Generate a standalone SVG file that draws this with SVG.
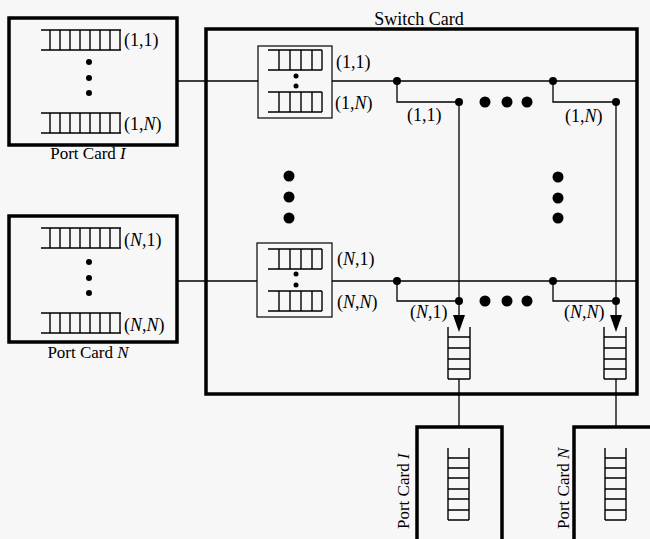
<svg xmlns="http://www.w3.org/2000/svg" width="650" height="539" viewBox="0 0 650 539">
<defs>
<style>
.card{fill:none;stroke:#000;stroke-width:3.5}
.thin{fill:none;stroke:#000;stroke-width:1.3}
.q{fill:none;stroke:#000;stroke-width:1.4}
.box{fill:none;stroke:#000;stroke-width:1.2}
.dot{fill:#000}
text{font-family:"Liberation Serif","Times New Roman",serif;fill:#000}
.lbl{font-size:18px}
.pc{font-size:17px}
.ttl{font-size:18px}
.it{font-style:italic}
</style>
<g id="hq">
<path class="q" d="M41,0H121M41,20H121M50,0V20M60,0V20M70,0V20M80,0V20M90,0V20M100,0V20M110,0V20M120,0V20"/>
</g>
<g id="sq">
<path class="q" d="M268,0H322M268,20H322M279,0V20M290,0V20M301,0V20M312,0V20M322,0V20"/>
</g>
<g id="vq">
<path class="q" d="M0,0V72M21,0V72M0,10H21M0,20H21M0,30H21M0,41H21M0,51H21M0,62H21M0,72H21"/>
</g>
<g id="oq">
<path class="q" d="M0,0V52M22,0V52M0,10H22M0,21H22M0,32H22M0,42H22M0,52H22"/>
</g>
</defs>
<rect width="650" height="539" fill="#f7f7f7"/>

<g id="connectors">
<path class="thin" d="M177,81H258M332,81H636"/>
<path class="thin" d="M177,281H257M332,281H636"/>
<path class="thin" d="M397,81V102H459M553,81V102H616"/>
<path class="thin" d="M397,281V301H459M553,281V301H616"/>
<path class="thin" d="M459,102V318M616,102V318"/>
<path class="thin" d="M459,379V427M616,379V427"/>
<polygon class="dot" points="453,315 465,315 459,332"/>
<polygon class="dot" points="610,315 622,315 616,332"/>
<circle class="dot" cx="397" cy="81" r="4"/>
<circle class="dot" cx="553" cy="81" r="4"/>
<circle class="dot" cx="459" cy="102" r="4"/>
<circle class="dot" cx="616" cy="102" r="4"/>
<circle class="dot" cx="397" cy="281" r="4"/>
<circle class="dot" cx="553" cy="281" r="4"/>
<circle class="dot" cx="459" cy="301" r="4"/>
<circle class="dot" cx="616" cy="301" r="4"/>
</g>

<g id="switch-card">
<rect class="card" x="206" y="29" width="431" height="365"/>
<text class="ttl" x="419" y="25" text-anchor="middle">Switch Card</text>
<circle class="dot" cx="289" cy="176" r="5.5"/>
<circle class="dot" cx="289" cy="197" r="5.5"/>
<circle class="dot" cx="289" cy="218" r="5.5"/>
<circle class="dot" cx="558" cy="177" r="5.5"/>
<circle class="dot" cx="558" cy="198" r="5.5"/>
<circle class="dot" cx="558" cy="218" r="5.5"/>
<circle class="dot" cx="485" cy="102" r="5.5"/>
<circle class="dot" cx="507" cy="102" r="5.5"/>
<circle class="dot" cx="527" cy="102" r="5.5"/>
<circle class="dot" cx="485" cy="301" r="5.5"/>
<circle class="dot" cx="507" cy="301" r="5.5"/>
<circle class="dot" cx="527" cy="301" r="5.5"/>
<text class="lbl" x="407" y="121">(1,1)</text>
<text class="lbl" x="565" y="122">(1,<tspan class="it">N</tspan>)</text>
<text class="lbl" x="410" y="318">(<tspan class="it">N</tspan>,1)</text>
<text class="lbl" x="564" y="318">(<tspan class="it">N</tspan>,<tspan class="it">N</tspan>)</text>
</g>

<g id="switch-queue-1">
<rect class="box" x="258" y="46" width="74" height="72"/>
<use href="#sq" y="50"/>
<use href="#sq" y="92"/>
<circle class="dot" cx="296" cy="76" r="2.5"/>
<circle class="dot" cx="296" cy="86" r="2.5"/>
<text class="lbl" x="336" y="68">(1,1)</text>
<text class="lbl" x="335" y="109">(1,<tspan class="it">N</tspan>)</text>
</g>

<g id="switch-queue-N">
<rect class="box" x="257" y="243" width="75" height="74"/>
<use href="#sq" y="249"/>
<use href="#sq" y="291"/>
<circle class="dot" cx="296" cy="274" r="2.5"/>
<circle class="dot" cx="296" cy="285" r="2.5"/>
<text class="lbl" x="337" y="265">(<tspan class="it">N</tspan>,1)</text>
<text class="lbl" x="337" y="308">(<tspan class="it">N</tspan>,<tspan class="it">N</tspan>)</text>
</g>

<g id="output-queue-1">
<use href="#oq" x="448" y="327"/>
</g>
<g id="output-queue-N">
<use href="#oq" x="604" y="327"/>
</g>

<g id="port-card-1-in">
<rect class="card" x="9" y="18" width="168" height="127"/>
<use href="#hq" y="30"/>
<use href="#hq" y="113"/>
<circle class="dot" cx="89" cy="62" r="3"/>
<circle class="dot" cx="89" cy="78" r="3"/>
<circle class="dot" cx="89" cy="93" r="3"/>
<text class="lbl" x="124" y="46">(1,1)</text>
<text class="lbl" x="124" y="130">(1,<tspan class="it">N</tspan>)</text>
<text class="pc" x="88" y="159" text-anchor="middle">Port Card <tspan class="it">I</tspan></text>
</g>

<g id="port-card-N-in">
<rect class="card" x="9" y="216" width="168" height="126"/>
<use href="#hq" y="228"/>
<use href="#hq" y="313"/>
<circle class="dot" cx="89" cy="262" r="3"/>
<circle class="dot" cx="89" cy="278" r="3"/>
<circle class="dot" cx="89" cy="293" r="3"/>
<text class="lbl" x="124" y="246">(<tspan class="it">N</tspan>,1)</text>
<text class="lbl" x="124" y="331">(<tspan class="it">N</tspan>,<tspan class="it">N</tspan>)</text>
<text class="pc" x="88" y="358" text-anchor="middle">Port Card <tspan class="it">N</tspan></text>
</g>

<g id="port-card-1-out">
<path class="card" d="M417,545V427H502V545"/>
<use href="#vq" x="448" y="448"/>
<text class="pc" transform="translate(409,529) rotate(-90)">Port Card <tspan class="it">I</tspan></text>
</g>

<g id="port-card-N-out">
<path class="card" d="M574,545V427H660"/>
<use href="#vq" x="605" y="448"/>
<text class="pc" transform="translate(569,529) rotate(-90)">Port Card <tspan class="it">N</tspan></text>
</g>
</svg>
